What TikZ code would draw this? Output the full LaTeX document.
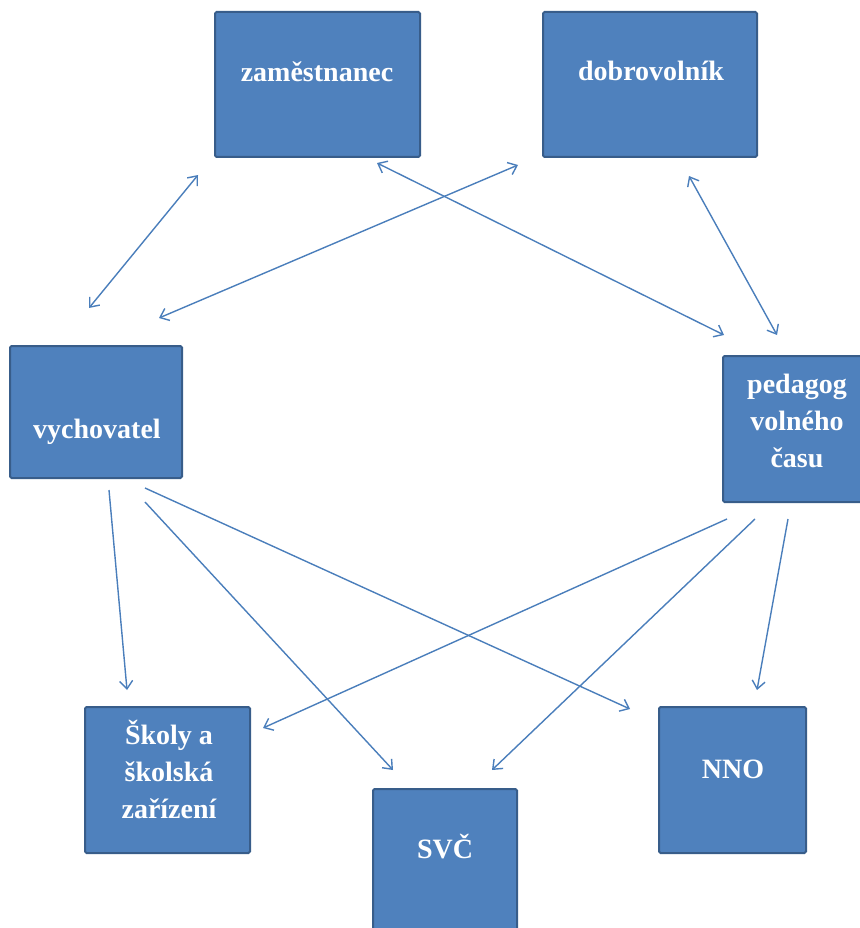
\documentclass[tikz,border=0pt]{standalone}
\usepackage{fontspec}
\setmainfont{Liberation Serif}
\usetikzlibrary{arrows.meta}
\definecolor{boxfill}{HTML}{4F81BD}
\definecolor{boxline}{HTML}{385D8A}
\definecolor{arrcol}{HTML}{4A7EBB}
\tikzset{
 box/.style={draw=boxline, line width=2pt, fill=boxfill, rounded corners=1.5pt, inner sep=0pt},
 lbl/.style={text=white, font=\bfseries\fontsize{28}{37}\selectfont, align=center, inner sep=0pt, anchor=base},
 arr/.style={draw=arrcol, line width=1.4pt, -{Straight Barb[length=8pt,width=13pt]}},
 darr/.style={draw=arrcol, line width=1.4pt, {Straight Barb[length=8pt,width=13pt]}-{Straight Barb[length=8pt,width=13pt]}},
}
\begin{document}
\begin{tikzpicture}[x=1pt,y=-1pt]
\useasboundingbox (0,0) rectangle (859,928);
% boxes
\node[box, minimum width=205pt, minimum height=145pt] (zam) at (317.5,84.5) {};
\node[box, minimum width=214pt, minimum height=145pt] (dob) at (650,84.5) {};
\node[box, minimum width=172pt, minimum height=132pt] (vych) at (96,412) {};
\node[box, minimum width=140pt, minimum height=146pt] (ped) at (793,429) {};
\node[box, minimum width=165pt, minimum height=146pt] (skoly) at (167.5,780) {};
\node[box, minimum width=144pt, minimum height=160pt] (svc) at (445,869) {};
\node[box, minimum width=147pt, minimum height=146pt] (nno) at (732.5,780) {};
% labels (base = baseline of the last line)
\node[lbl] (tzam) at (317,82) {zaměstnanec};
\node[lbl] (tdob) at (651,81) {dobrovolník};
\node[lbl] (tvych) at (97,438) {vychovatel};
\node[lbl] (tped) at (797,467) {pedagog\\volného\\času};
\node[lbl] (tskoly) at (169,818) {Školy a\\školská\\zařízení};
\node[lbl] (tsvc) at (445,858) {SVČ};
\node[lbl] (tnno) at (733,778) {NNO};
% connector end points
\coordinate (a1) at (198,175); \coordinate (b1) at (89,308);
\coordinate (a2) at (518,165); \coordinate (b2) at (159,318);
\coordinate (a3) at (377,163); \coordinate (b3) at (724,335);
\coordinate (a4) at (689,176); \coordinate (b4) at (777,335);
\coordinate (a5) at (109,490); \coordinate (b5) at (127,690);
\coordinate (a6) at (145,502); \coordinate (b6) at (393,770);
\coordinate (a7) at (145,488); \coordinate (b7) at (630,709);
\coordinate (a8) at (727,519); \coordinate (b8) at (263,728);
\coordinate (a9) at (755,519); \coordinate (b9) at (492,770);
\coordinate (a10) at (788,519); \coordinate (b10) at (757,690);
% connectors
\draw[darr] (a1) -- (b1);
\draw[darr] (a2) -- (b2);
\draw[darr] (a3) -- (b3);
\draw[darr] (a4) -- (b4);
\draw[arr] (a5) -- (b5);
\draw[arr] (a6) -- (b6);
\draw[arr] (a7) -- (b7);
\draw[arr] (a8) -- (b8);
\draw[arr] (a9) -- (b9);
\draw[arr] (a10) -- (b10);
\end{tikzpicture}
\end{document}
